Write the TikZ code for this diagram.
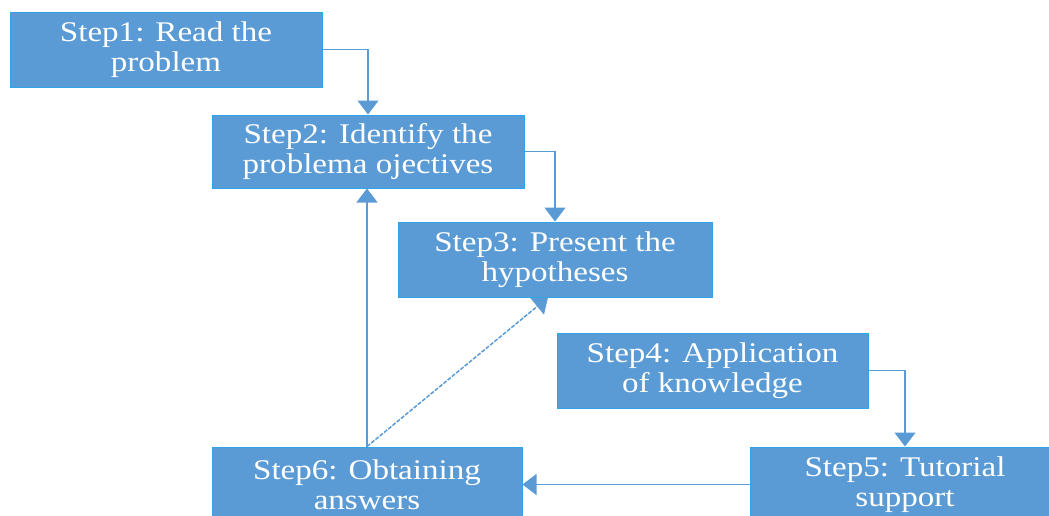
\documentclass[tikz,border=0pt]{standalone}
\usepackage{fontspec}
\setmainfont{Liberation Serif}[FakeStretch=1.16]
\usetikzlibrary{arrows.meta}
\definecolor{boxblue}{HTML}{5B9BD5}
\definecolor{edgeblue}{HTML}{2EA6E6}
\begin{document}
\begin{tikzpicture}[x=1pt,y=-1pt,
  stepbox/.style={draw=edgeblue, line width=1pt, fill=boxblue, text=white, align=center, inner sep=0pt, font=\fontsize{28.5}{29.5}\selectfont},
  conn/.style={draw=boxblue, line width=1.5pt, -{Triangle[width=21pt,length=14pt]}}]
\useasboundingbox (0,0) rectangle (1049,515);
\node[stepbox, minimum width=312pt, minimum height=75pt] (s1) at (166,49.5) {Step1: Read the\\problem};
\node[stepbox, minimum width=312pt, minimum height=73pt] (s2) at (368,151.5) {Step2: Identify the\\problema ojectives};
\node[stepbox, minimum width=314pt, minimum height=75pt] (s3) at (555,259.5) {Step3: Present the\\hypotheses};
\node[stepbox, minimum width=311pt, minimum height=75pt] (s4) at (712.5,370.5) {Step4: Application\\of knowledge};
\node[stepbox, minimum width=310pt, minimum height=75pt] (s5) at (905,484.5) {Step5: Tutorial\\support};
\node[stepbox, minimum width=310pt, minimum height=75pt] (s6) at (367,484.5) {Step6: Obtaining\\answers};
\draw[conn] (s1.east) -| (s2.north);
\draw[conn] (s2.east) -| (s3.north);
\draw[conn] (s4.east) -| (s5.north);
\draw[conn] (s5.west) -- (s6.east);
\draw[conn] (s6.north) -- (s6.north |- s2.south);
\draw[conn, dash pattern=on 4pt off 1.5pt] (s6.north) -- ([xshift=-7pt]s3.south);
\end{tikzpicture}
\end{document}
